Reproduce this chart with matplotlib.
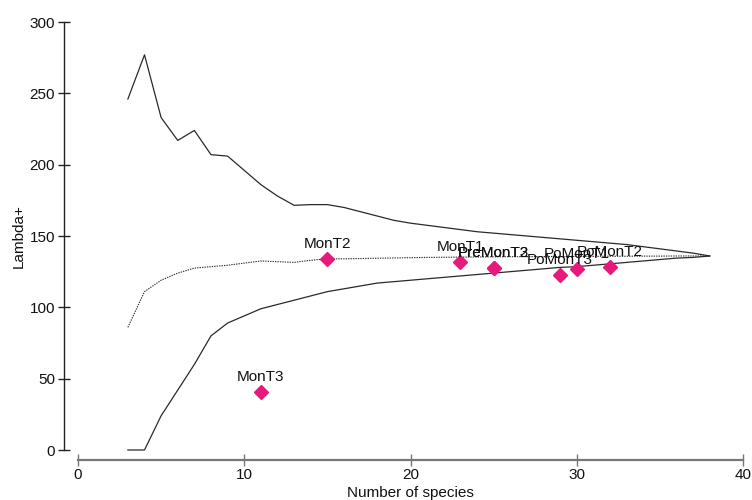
import matplotlib
matplotlib.use("Agg")
import matplotlib.pyplot as plt

plt.rcParams['font.family'] = ['Liberation Sans', 'DejaVu Sans']

# Funnel limits for average taxonomic distinctness (Lambda+) by number of species
n_species = list(range(3, 39))
upper_limit = [246, 277, 233, 217, 224, 207, 206, 196, 186, 178, 171.5, 172, 172,
               170, 167, 164, 161, 159, 157.5, 156, 154.5, 153, 152, 151, 150, 149,
               148, 147, 146, 145, 144, 142.5, 141, 139.5, 138, 136]
mean_line = [86, 111, 119, 124, 127.5, 128.5, 129.5, 131, 132.5, 132, 131.5, 133, 134,
             134, 134.2, 134.4, 134.6, 134.8, 135, 135.1, 135.2, 135.3, 135.4, 135.5,
             135.5, 135.6, 135.6, 135.7, 135.7, 135.8, 135.8, 135.9, 135.9, 136, 136, 136]
lower_limit = [0, 0, 24, 42, 60, 80, 89, 94, 99, 102, 105, 108, 111, 113, 115, 117,
               118, 119, 120, 121, 122, 123, 124, 125, 126, 127, 128, 128.5, 129.5,
               130.5, 131.5, 132.5, 133.5, 134.5, 135, 136]

# Samples
sample_names = ["MonT1", "MonT2", "MonT3", "PreMonT2", "PreMonT3",
                "PoMonT1", "PoMonT2", "PoMonT3"]
sample_species = [23, 15, 11, 25, 25, 30, 32, 29]
sample_lambda = [131.5, 133.8, 40.5, 127.8, 127.8, 126.6, 128.5, 122.8]

x_ticks = [0, 10, 20, 30, 40]
y_ticks = [0, 50, 100, 150, 200, 250, 300]

fig = plt.figure(figsize=(7.52, 5.0), dpi=100)
ax = fig.add_axes([78 / 752, 1 - 450 / 500, 665 / 752, 428 / 500])

line_col = "#2a2a2a"
ax.plot(n_species, upper_limit, color=line_col, lw=0.9, clip_on=False)
ax.plot(n_species, lower_limit, color=line_col, lw=0.9, clip_on=False)
ax.plot(n_species, mean_line, color=line_col, lw=0.8, ls=(0, (1.2, 1.0)), clip_on=False)

ax.plot(sample_species, sample_lambda, ls="none", marker="D", markersize=7,
        color="#E8197D", markeredgecolor="#E8197D", clip_on=False, zorder=3)
for name, xs, ys in zip(sample_names, sample_species, sample_lambda):
    ax.annotate(name, (xs, ys), xytext=(0, 8), textcoords="offset points",
                ha="center", va="baseline", fontsize=11, color="#111111")

ax.set_xlim(0, 40)
ax.set_ylim(0, 300)
ax.set_xticks(x_ticks)
ax.set_yticks(y_ticks)

for s in ("top", "right"):
    ax.spines[s].set_visible(False)
ax.spines["left"].set_position(("outward", 10))
ax.spines["bottom"].set_position(("outward", 7.2))
ax.spines["left"].set_color("#222222")
ax.spines["bottom"].set_color("#777777")
ax.spines["left"].set_linewidth(1.0)
ax.spines["bottom"].set_linewidth(1.6)

ax.tick_params(axis="y", direction="inout", length=9, width=1.0, color="#222222",
               labelsize=11, pad=2, labelcolor="#111111")
ax.tick_params(axis="x", direction="inout", length=9, width=1.0, color="#777777",
               labelsize=11, pad=1, labelcolor="#111111")

ax.set_xlabel("Number of species", fontsize=11, color="#111111")
ax.set_ylabel("Lambda+", fontsize=11, color="#111111")
ax.xaxis.set_label_coords(0.5, -0.083)
ax.yaxis.set_label_coords(-0.079, 0.5)

fig.savefig("out.png", dpi=100)
